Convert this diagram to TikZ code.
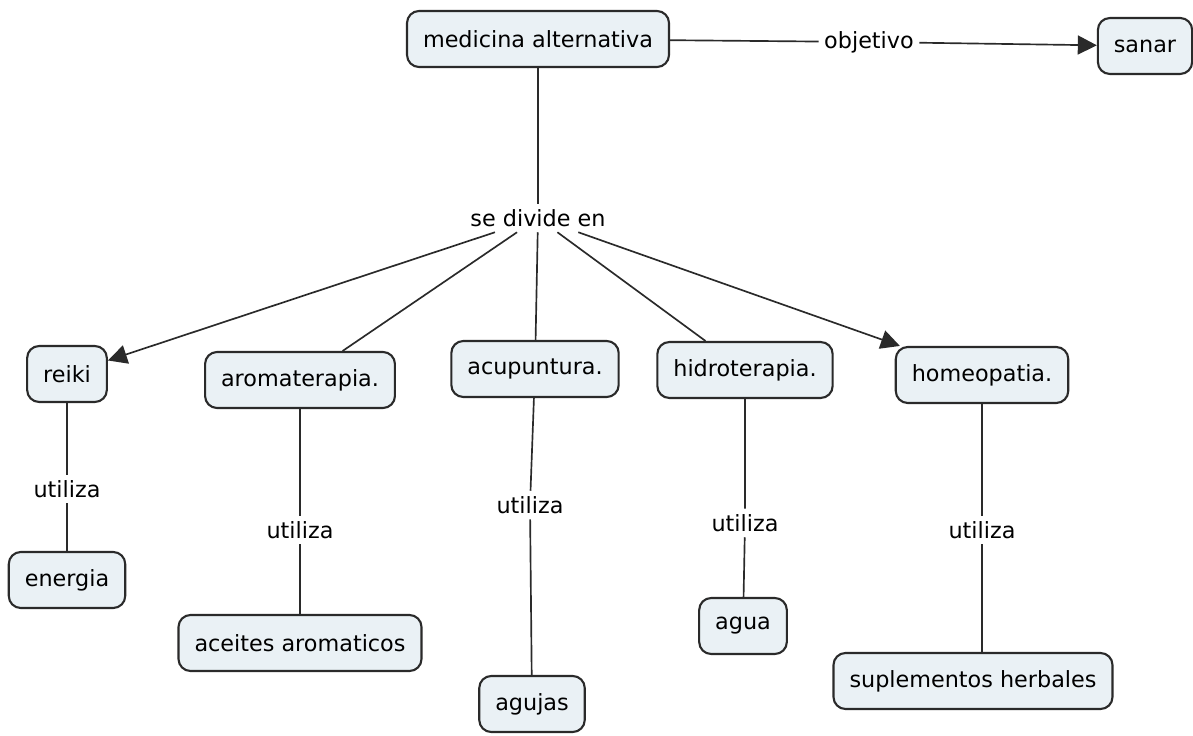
\documentclass[tikz,border=0pt]{standalone}
\usepackage{fontspec}
\setmainfont{DejaVu Sans}
\definecolor{MapaFondo}{HTML}{EAF1F5}
\definecolor{MapaLinea}{HTML}{2A2A2A}
\usetikzlibrary{arrows.meta}

\begin{document}
\begin{tikzpicture}[x=0.02cm, y=-0.02cm, font=\fontsize{12.7}{15}\selectfont,
    concepto/.style={draw=MapaLinea, line width=1.2pt, fill=MapaFondo, rounded corners=0.24cm, minimum height=1.12cm, inner xsep=0.32cm, align=center},
    enlace/.style={inner sep=3pt},
    linea/.style={MapaLinea, line width=0.95pt},
    flecha/.style={linea, -{Triangle[length=0.38cm, width=0.38cm]}}]
    \useasboundingbox (0,0) rectangle (1193,736);

    % Conceptos (centros en pixeles del original)
    \node[concepto] (medicina) at (538,39) {medicina alternativa};
    \node[concepto] (sanar) at (1145,46) {sanar};
    \node[concepto] (reiki) at (67,374) {reiki};
    \node[concepto] (aroma) at (300,380) {aromaterapia.};
    \node[concepto] (acupuntura) at (535,369) {acupuntura.};
    \node[concepto] (hidro) at (745,370) {hidroterapia.};
    \node[concepto] (homeo) at (982,375) {homeopatia.};
    \node[concepto] (energia) at (67,580) {energia};
    \node[concepto] (aceites) at (300,643) {aceites aromaticos};
    \node[concepto] (agujas) at (532,704) {agujas};
    \node[concepto] (agua) at (743,626) {agua};
    \node[concepto] (suplementos) at (973,681) {suplementos herbales};

    % Palabras de enlace
    \node[enlace] (objetivo) at (869,42) {objetivo};
    \node[enlace] (divide) at (538,218) {se divide en};
    \node[enlace] (u1) at (67,489) {utiliza};
    \node[enlace] (u2) at (300,530) {utiliza};
    \node[enlace] (u3) at (530,505) {utiliza};
    \node[enlace] (u4) at (745,523) {utiliza};
    \node[enlace] (u5) at (982,530) {utiliza};

    % Conectores
    \draw[linea] (medicina) -- (objetivo);
    \draw[flecha] (objetivo) -- (sanar);
    \draw[linea] (medicina) -- (divide);
    \draw[flecha] (divide) -- (reiki);
    \draw[linea] (divide) -- (aroma);
    \draw[linea] (divide) -- (acupuntura);
    \draw[linea] (divide) -- (hidro);
    \draw[flecha] (divide) -- (homeo);

    \draw[linea] (reiki) -- (u1) -- (energia);
    \draw[linea] (aroma) -- (u2) -- (aceites);
    \draw[linea] (acupuntura) -- (u3) -- (agujas);
    \draw[linea] (hidro) -- (u4) -- (agua);
    \draw[linea] (homeo) -- (u5) -- (u5 |- suplementos.north);
\end{tikzpicture}
\end{document}
